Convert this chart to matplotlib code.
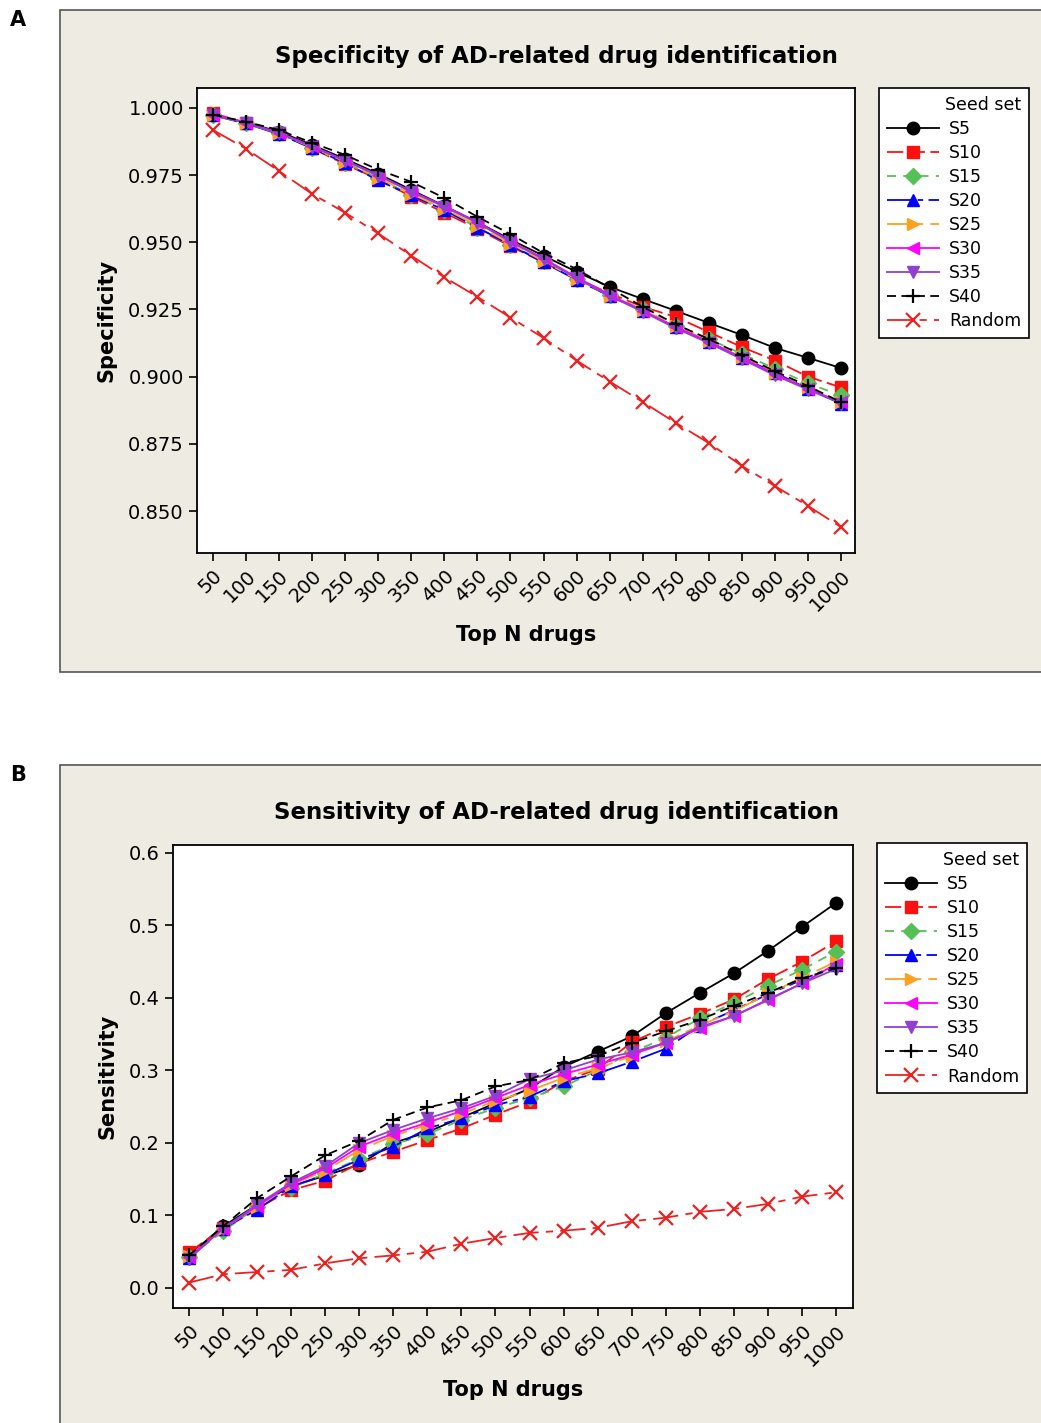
import matplotlib.pyplot as plt
from matplotlib.patches import Rectangle

# dados
top_n = [50, 100, 150, 200, 250, 300, 350, 400, 450, 500,
         550, 600, 650, 700, 750, 800, 850, 900, 950, 1000]
seed_sets = ["S5", "S10", "S15", "S20", "S25", "S30", "S35", "S40", "Random"]

spec_s5 = [0.9975, 0.9945, 0.9912, 0.9862, 0.9810, 0.9755, 0.9695, 0.9635, 0.9575, 0.9510,
           0.9450, 0.9390, 0.9334, 0.9289, 0.9245, 0.9200, 0.9155, 0.9107, 0.9070, 0.9032]
spec_s10 = [0.9980, 0.9945, 0.9905, 0.9850, 0.9790, 0.9735, 0.9670, 0.9610, 0.9550, 0.9485,
            0.9425, 0.9365, 0.9310, 0.9260, 0.9222, 0.9166, 0.9110, 0.9060, 0.9000, 0.8960]
spec_s15 = [0.9975, 0.9942, 0.9905, 0.9852, 0.9795, 0.9740, 0.9675, 0.9620, 0.9555, 0.9490,
            0.9430, 0.9365, 0.9305, 0.9250, 0.9190, 0.9140, 0.9085, 0.9030, 0.8975, 0.8930]
spec_s20 = [0.9972, 0.9942, 0.9902, 0.9850, 0.9795, 0.9730, 0.9675, 0.9620, 0.9555, 0.9490,
            0.9425, 0.9360, 0.9300, 0.9245, 0.9185, 0.9130, 0.9070, 0.9015, 0.8955, 0.8900]
spec_s25 = [0.9974, 0.9943, 0.9905, 0.9853, 0.9800, 0.9740, 0.9680, 0.9625, 0.9562, 0.9495,
            0.9430, 0.9362, 0.9302, 0.9248, 0.9188, 0.9132, 0.9072, 0.9015, 0.8960, 0.8905]
spec_s30 = [0.9975, 0.9945, 0.9908, 0.9858, 0.9805, 0.9750, 0.9690, 0.9635, 0.9575, 0.9505,
            0.9440, 0.9370, 0.9305, 0.9245, 0.9185, 0.9130, 0.9070, 0.9010, 0.8955, 0.8905]
spec_s35 = [0.9973, 0.9944, 0.9906, 0.9856, 0.9803, 0.9748, 0.9688, 0.9632, 0.9572, 0.9502,
            0.9437, 0.9366, 0.9300, 0.9242, 0.9180, 0.9125, 0.9065, 0.9005, 0.8952, 0.8900]
spec_s40 = [0.9975, 0.9948, 0.9918, 0.9870, 0.9825, 0.9770, 0.9725, 0.9665, 0.9595, 0.9530,
            0.9460, 0.9400, 0.9330, 0.9260, 0.9195, 0.9140, 0.9080, 0.9020, 0.8965, 0.8905]
spec_rand = [0.9918, 0.9848, 0.9765, 0.9680, 0.9610, 0.9533, 0.9450, 0.9370, 0.9297, 0.9220,
             0.9144, 0.9060, 0.8982, 0.8906, 0.8828, 0.8753, 0.8668, 0.8593, 0.8519, 0.8440]

sens_s5 = [0.045, 0.085, 0.115, 0.140, 0.155, 0.170, 0.200, 0.215, 0.235, 0.255,
           0.275, 0.305, 0.326, 0.347, 0.379, 0.407, 0.434, 0.465, 0.498, 0.531]
sens_s10 = [0.049, 0.083, 0.110, 0.135, 0.148, 0.172, 0.188, 0.204, 0.220, 0.239,
            0.257, 0.285, 0.302, 0.339, 0.360, 0.378, 0.398, 0.426, 0.450, 0.478]
sens_s15 = [0.043, 0.078, 0.112, 0.138, 0.158, 0.178, 0.198, 0.212, 0.232, 0.248,
            0.262, 0.278, 0.300, 0.325, 0.345, 0.372, 0.393, 0.417, 0.439, 0.464]
sens_s20 = [0.042, 0.082, 0.108, 0.140, 0.156, 0.177, 0.195, 0.220, 0.234, 0.252,
            0.264, 0.285, 0.296, 0.312, 0.330, 0.362, 0.383, 0.405, 0.425, 0.445]
sens_s25 = [0.044, 0.082, 0.112, 0.142, 0.162, 0.190, 0.210, 0.225, 0.240, 0.258,
            0.272, 0.290, 0.303, 0.320, 0.340, 0.362, 0.382, 0.405, 0.428, 0.450]
sens_s30 = [0.043, 0.082, 0.113, 0.143, 0.165, 0.195, 0.213, 0.228, 0.244, 0.262,
            0.280, 0.295, 0.308, 0.322, 0.338, 0.358, 0.375, 0.397, 0.420, 0.447]
sens_s35 = [0.040, 0.082, 0.115, 0.145, 0.168, 0.200, 0.218, 0.234, 0.248, 0.265,
            0.288, 0.300, 0.315, 0.325, 0.338, 0.360, 0.375, 0.398, 0.420, 0.440]
sens_s40 = [0.045, 0.085, 0.124, 0.154, 0.183, 0.203, 0.232, 0.249, 0.259, 0.278,
            0.287, 0.310, 0.320, 0.338, 0.354, 0.370, 0.389, 0.407, 0.427, 0.441]
sens_rand = [0.0074, 0.019, 0.022, 0.025, 0.034, 0.041, 0.045, 0.050, 0.061, 0.069,
             0.076, 0.079, 0.083, 0.092, 0.097, 0.105, 0.109, 0.116, 0.126, 0.132]

spec = [spec_s5, spec_s10, spec_s15, spec_s20, spec_s25, spec_s30, spec_s35, spec_s40, spec_rand]
sens = [sens_s5, sens_s10, sens_s15, sens_s20, sens_s25, sens_s30, sens_s35, sens_s40, sens_rand]

# estilos (cor, marcador, tracejado)
estilos = [
    ("black", "o", "-"),
    ("#ff1010", "s", (0, (9, 3))),
    ("#55c055", "D", (0, (5, 4))),
    ("#0000ff", "^", (0, (14, 3, 3, 3))),
    ("#ffa020", ">", (0, (12, 4, 4, 4))),
    ("#ff00ff", "<", "-"),
    ("#9040d0", "v", "-"),
    ("black", "+", (0, (5, 3))),
    ("#ee2020", "x", (0, (14, 4, 4, 4))),
]

plt.rcParams['font.family'] = ['DejaVu Sans']

W, H = 1041, 1423
fig = plt.figure(figsize=(W / 100, H / 100), dpi=100)

def fx(px):
    return px / W

def fy(py):
    return 1 - py / H

# molduras bege
fig.patches.append(Rectangle((fx(60), fy(672)), 1.0, fy(10) - fy(672), transform=fig.transFigure,
                             facecolor="#eeebe2", edgecolor="#555555", linewidth=1.2, zorder=-5))
fig.patches.append(Rectangle((fx(60), -0.01), 1.0, fy(765) + 0.01, transform=fig.transFigure,
                             facecolor="#eeebe2", edgecolor="#555555", linewidth=1.2, zorder=-5))

fig.text(fx(18), fy(20), "A", fontsize=15, fontweight="bold", ha="center", va="center")
fig.text(fx(18), fy(775), "B", fontsize=15, fontweight="bold", ha="center", va="center")

idx = list(range(len(top_n)))


def painel(box, dados, titulo, ylabel, yticks, yfmt, ylim, xlim, leg_pos, title_xy):
    l, t, r, b = box
    ax = fig.add_axes([fx(l), fy(b), fx(r) - fx(l), fy(t) - fy(b)])
    ax.set_facecolor("white")
    for serie, nome, (cor, mk, ls) in zip(dados, seed_sets, estilos):
        if mk in ("+", "x"):
            ax.plot(idx, serie, color=cor, linestyle=ls, linewidth=1.3, marker=mk,
                    markersize=10, markeredgewidth=1.6, label=nome)
        else:
            ax.plot(idx, serie, color=cor, linestyle=ls, linewidth=1.3, marker=mk,
                    markersize=9 if mk != "D" else 8, label=nome)
    ax.set_xlim(*xlim)
    ax.set_ylim(*ylim)
    ax.set_xticks(idx)
    ax.set_xticklabels([str(v) for v in top_n], rotation=45, ha="right",
                       rotation_mode="anchor", fontsize=14)
    ax.set_yticks(yticks)
    ax.set_yticklabels([yfmt.format(v) for v in yticks], fontsize=14)
    ax.tick_params(direction="out", length=6, width=1.2)
    for s in ax.spines.values():
        s.set_linewidth(1.3)
    ax.set_xlabel("Top N drugs", fontsize=15, fontweight="bold", labelpad=8)
    ax.set_ylabel(ylabel, fontsize=15, fontweight="bold", labelpad=8)
    fig.text(fx(title_xy[0]), fy(title_xy[1]), titulo, fontsize=16.5, fontweight="bold",
             ha="center", va="center")
    leg = ax.legend(loc="upper left", bbox_to_anchor=(fx(leg_pos[0]), fy(leg_pos[1])),
                    bbox_transform=fig.transFigure, title="Seed set", alignment="right",
                    fontsize=12.5, title_fontsize=12.5, frameon=True, fancybox=False,
                    edgecolor="black", framealpha=1, handlelength=3.0, labelspacing=0.35,
                    borderpad=0.45, handletextpad=0.6, borderaxespad=0)
    leg.get_frame().set_linewidth(1.2)
    return ax


painel((197, 88, 855, 553), spec, "Specificity of AD-related drug identification", "Specificity",
       [0.850, 0.875, 0.900, 0.925, 0.950, 0.975, 1.000], "{:.3f}",
       (0.8344, 1.0074), (-0.48, 19.42), (879, 88), (556, 57))

painel((173, 845, 853, 1308), sens, "Sensitivity of AD-related drug identification", "Sensitivity",
       [0.0, 0.1, 0.2, 0.3, 0.4, 0.5, 0.6], "{:.1f}",
       (-0.0276, 0.611), (-0.47, 19.5), (877, 843), (556, 812))

fig.savefig("out.png", dpi=100, facecolor="white")
